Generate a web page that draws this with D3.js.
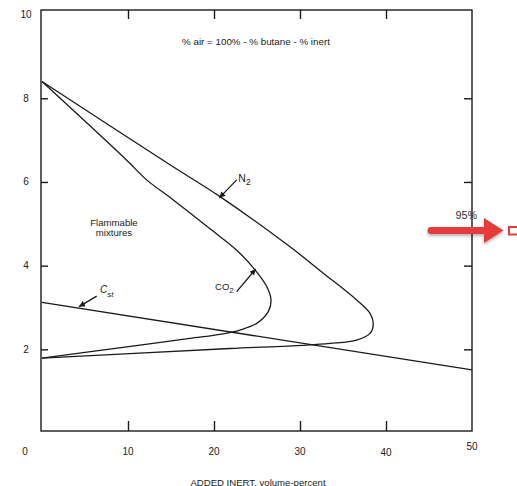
<!DOCTYPE html>
<html>
<head>
<meta charset="utf-8">
<script src="https://cdn.jsdelivr.net/npm/d3@7"></script>
<style>
  html, body { margin: 0; padding: 0; background: #fff; }
  svg { display: block; font-family: "Liberation Sans", Arial, Helvetica, sans-serif; }
</style>
</head>
<body>
<div id="chart"></div>
<script>
// flammability limits of butane vs added inert (volume-percent)
const xTickValues = [0, 10, 20, 30, 40, 50];
const yTickValues = [2, 4, 6, 8, 10];

// N2 boundary: upper limit branch, nose, then lower limit branch
const n2Boundary = [
  [0, 8.40], [14.88, 6.41], [20.70, 5.65], [28.84, 4.45], [32.71, 3.82],
  [36.59, 3.18], [38.14, 2.86], [38.52, 2.62], [38.14, 2.38], [36.59, 2.22],
  [33.49, 2.14], [30.78, 2.10], [21.86, 2.02], [0, 1.79],
];

// CO2 boundary
const co2Boundary = [
  [0, 8.40], [9.85, 6.52], [12.17, 6.05], [15.27, 5.57], [19.73, 4.85],
  [22.64, 4.37], [24.77, 3.90], [26.13, 3.50], [26.63, 3.18], [26.31, 2.90],
  [24.97, 2.62], [23.02, 2.46], [21.08, 2.37], [17.21, 2.26], [11.40, 2.10],
  [0, 1.79],
];

// stoichiometric line
const cstLine = [[0, 3.12], [50, 1.51]];

const regionLabel = ['Flammable', 'mixtures'];
const noteText = '% air = 100% - % butane - % inert';
const axisTitle = 'ADDED INERT, volume-percent';
const calloutText = '95%';

(function () {
  const W = 517, H = 486;
  const frame = { left: 41, right: 472, top: 10, bottom: 431 };
  const ink = '#1a1a1a';

  const svg = d3.select('#chart').append('svg')
    .attr('width', W)
    .attr('height', H)
    .attr('viewBox', `0 0 ${W} ${H}`);

  const x = d3.scaleLinear().domain([0, 50]).range([42, 472]);
  const y = d3.scaleLinear().domain([0, 10]).range([433, 14.6]);

  const defs = svg.append('defs');
  defs.append('marker')
    .attr('id', 'head')
    .attr('viewBox', '0 0 10 10')
    .attr('refX', 10)
    .attr('refY', 5)
    .attr('markerUnits', 'userSpaceOnUse')
    .attr('markerWidth', 7)
    .attr('markerHeight', 6)
    .attr('orient', 'auto')
    .append('path')
    .attr('d', 'M0,0 L10,5 L0,10 Z')
    .attr('fill', ink);

  const shadow = defs.append('filter')
    .attr('id', 'shadow')
    .attr('x', '-20%').attr('y', '-40%')
    .attr('width', '140%').attr('height', '200%');
  shadow.append('feDropShadow')
    .attr('dx', 0).attr('dy', 2)
    .attr('stdDeviation', 1.5)
    .attr('flood-color', '#000')
    .attr('flood-opacity', 0.3);

  // frame + inward ticks
  svg.append('rect')
    .attr('x', frame.left)
    .attr('y', frame.top)
    .attr('width', frame.right - frame.left)
    .attr('height', frame.bottom - frame.top)
    .attr('fill', 'none')
    .attr('stroke', ink)
    .attr('stroke-width', 1.4);

  const styleAxis = g => {
    g.select('.domain').remove();
    g.selectAll('.tick line').attr('stroke', ink).attr('stroke-width', 1.4);
  };
  const innerY = yTickValues.filter(d => d < 10);
  const innerX = xTickValues.filter(d => d > 0 && d < 50);

  svg.append('g')
    .attr('transform', `translate(${frame.left},0)`)
    .call(d3.axisLeft(y).tickValues(innerY).tickSize(-7).tickFormat(''))
    .call(styleAxis);
  svg.append('g')
    .attr('transform', `translate(${frame.right},0)`)
    .call(d3.axisRight(y).tickValues(innerY).tickSize(-8).tickFormat(''))
    .call(styleAxis);
  svg.append('g')
    .attr('transform', `translate(0,${frame.top})`)
    .call(d3.axisTop(x).tickValues(innerX).tickSize(-9).tickFormat(''))
    .call(styleAxis);
  svg.append('g')
    .attr('transform', `translate(0,${frame.bottom})`)
    .call(d3.axisBottom(x).tickValues(innerX).tickSize(-10).tickFormat(''))
    .call(styleAxis);

  // tick labels
  const yLabelX = 26;
  svg.selectAll('.ylab')
    .data(yTickValues)
    .join('text')
    .attr('class', 'ylab')
    .attr('x', yLabelX)
    .attr('y', d => Math.max(y(d), 12.5))
    .attr('dy', '0.35em')
    .attr('text-anchor', 'middle')
    .attr('font-size', '10px')
    .attr('fill', '#222')
    .text(d => d);

  svg.selectAll('.xlab')
    .data(xTickValues)
    .join('text')
    .attr('class', 'xlab')
    .attr('x', d => (d === 0 ? yLabelX - 1 : x(d)))
    .attr('y', d => (d === 50 ? 449.5 : d === 40 ? 456 : 455))
    .attr('text-anchor', 'middle')
    .attr('font-size', '10px')
    .attr('fill', '#222')
    .text(d => d);

  // curves
  const line = d3.line()
    .x(d => x(d[0]))
    .y(d => y(d[1]))
    .curve(d3.curveCatmullRom.alpha(0.5));

  svg.selectAll('.boundary')
    .data([n2Boundary, co2Boundary, cstLine])
    .join('path')
    .attr('class', 'boundary')
    .attr('d', line)
    .attr('fill', 'none')
    .attr('stroke', ink)
    .attr('stroke-width', 1.3);

  // annotations
  const arrows = [
    { from: [22.64, 6.05], to: [20.62, 5.62] },
    { from: [22.64, 3.38], to: [24.85, 3.92] },
    { from: [6.36, 3.27], to: [4.30, 3.02] },
  ];
  svg.selectAll('.pointer')
    .data(arrows)
    .join('line')
    .attr('class', 'pointer')
    .attr('x1', d => x(d.from[0]))
    .attr('y1', d => y(d.from[1]))
    .attr('x2', d => x(d.to[0]))
    .attr('y2', d => y(d.to[1]))
    .attr('stroke', ink)
    .attr('stroke-width', 1.3)
    .attr('marker-end', 'url(#head)');

  const n2 = svg.append('text')
    .attr('x', x(22.83))
    .attr('y', y(6.01))
    .attr('font-size', '10.5px')
    .attr('fill', '#222');
  n2.append('tspan').text('N');
  n2.append('tspan').attr('dy', 3.3).attr('font-size', '8.5px').text('2');

  const co2 = svg.append('text')
    .attr('x', x(20.12))
    .attr('y', y(3.42))
    .attr('font-size', '9.5px')
    .attr('fill', '#222');
  co2.append('tspan').text('CO');
  co2.append('tspan').attr('dy', 2.6).attr('font-size', '8px').text('2');

  const cst = svg.append('text')
    .attr('x', x(6.74))
    .attr('y', y(3.34))
    .attr('font-size', '10px')
    .attr('font-style', 'italic')
    .attr('fill', '#222');
  cst.append('tspan').text('C');
  cst.append('tspan').attr('dy', 3.6).attr('font-size', '8px').text('st');

  svg.selectAll('.region')
    .data(regionLabel)
    .join('text')
    .attr('class', 'region')
    .attr('x', x(8.37))
    .attr('y', (d, i) => y(4.955) + i * 10)
    .attr('text-anchor', 'middle')
    .attr('font-size', '9.6px')
    .attr('fill', '#222')
    .text(d => d);

  svg.append('text')
    .attr('x', x(24.88))
    .attr('y', 45)
    .attr('text-anchor', 'middle')
    .attr('font-size', '9.8px')
    .attr('fill', '#222')
    .text(noteText);

  svg.append('text')
    .attr('x', 258)
    .attr('y', 485.5)
    .attr('text-anchor', 'middle')
    .attr('font-size', '9.6px')
    .attr('fill', '#222')
    .text(axisTitle);

  // red callout on the right edge
  svg.append('text')
    .attr('x', frame.right + 5)
    .attr('y', 219)
    .attr('text-anchor', 'end')
    .attr('font-size', '10.8px')
    .attr('fill', '#333')
    .text(calloutText);

  const red = '#e53b3b';
  const cy = 230.5;
  svg.append('path')
    .attr('d', `M${431},${cy - 3.5} L484,${cy - 3.5} L484,${cy - 12.5} L503.5,${cy} L484,${cy + 12.5} L484,${cy + 3.5} L${431},${cy + 3.5} A3.5,3.5 0 0 1 ${431},${cy - 3.5} Z`)
    .attr('fill', red)
    .attr('filter', 'url(#shadow)');

  svg.append('rect')
    .attr('x', 509)
    .attr('y', cy - 3.5)
    .attr('width', 14)
    .attr('height', 7.5)
    .attr('fill', '#fff')
    .attr('stroke', red)
    .attr('stroke-width', 2);
})();
</script>
</body>
</html>
